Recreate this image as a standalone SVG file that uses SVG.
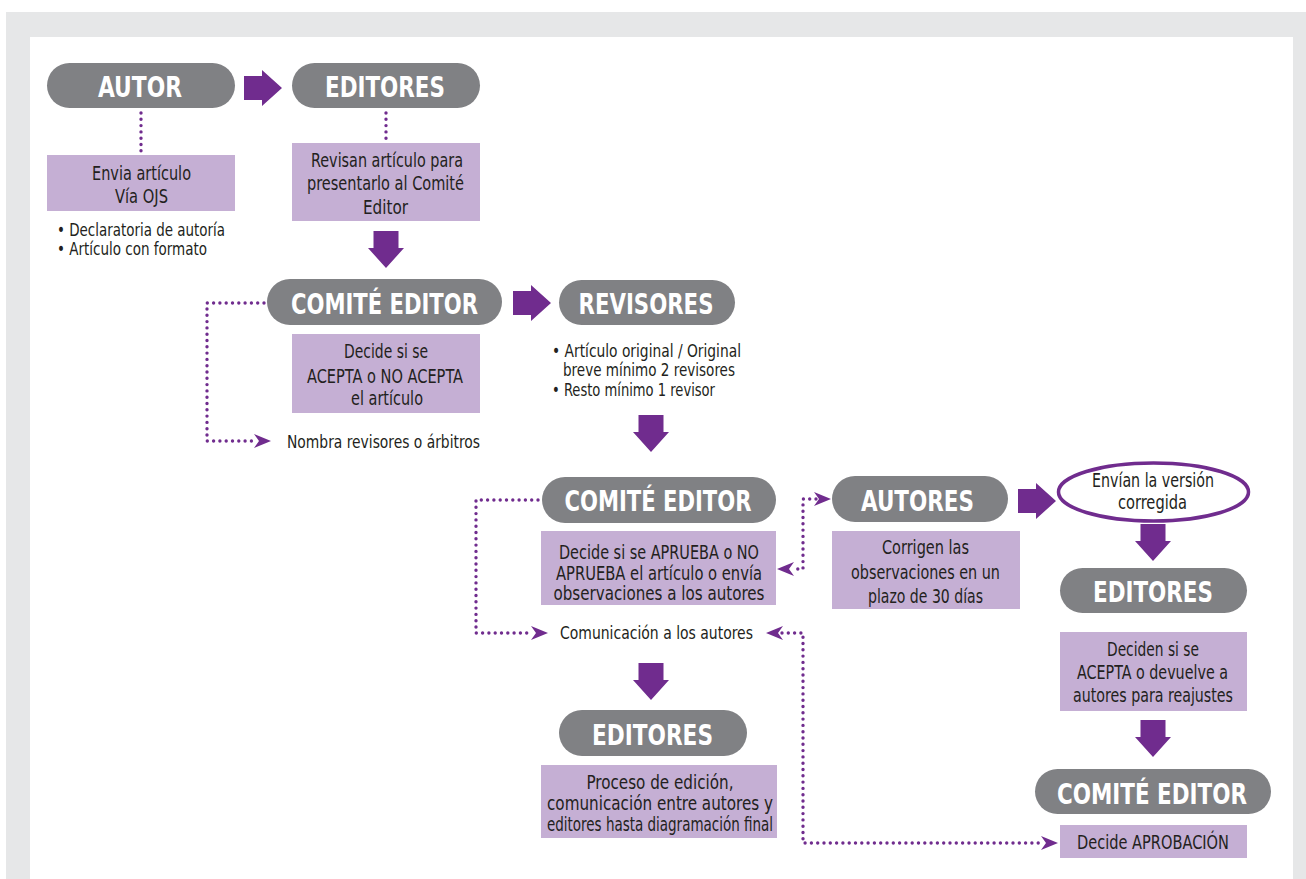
<svg xmlns="http://www.w3.org/2000/svg" width="1306" height="879" viewBox="0 0 1306 879">
<style>
.pill{fill:#808184}
.pt{font-family:"DejaVu Sans Condensed","Liberation Sans",sans-serif;font-weight:bold;font-size:28px;fill:#fff;text-anchor:middle}
.box{fill:#c5afd4}
.t{font-family:"DejaVu Sans Condensed","Liberation Sans",sans-serif;font-size:19px;fill:#231f20}
.s{font-size:17px}
.c{text-anchor:middle}
.arr{fill:#702c8e}
.dot{fill:none;stroke:#702c8e;stroke-width:3.4;stroke-linecap:round;stroke-dasharray:0 6.3}
.ah{fill:#702c8e}
</style>
<defs>
<path id="bigR" d="M0,-12 H18 V-18 L38,0 L18,18 V12 H0 Z"/>
<path id="bigD" d="M-12.5,0 H12.5 V17 H18 L0,37 L-18,17 H-12.5 Z"/>
<path id="headR" d="M0,0 L-17,-7 L-12,0 L-17,7 Z"/>
</defs>
<rect x="6" y="12" width="1300" height="867" fill="#e6e7e8"/>
<rect x="30" y="37" width="1263" height="842" fill="#ffffff"/>

<g id="connectors">
<use href="#bigR" class="arr" x="244" y="88"/>
<use href="#bigD" class="arr" x="386" y="231"/>
<use href="#bigR" class="arr" x="513" y="303"/>
<use href="#bigD" class="arr" x="651" y="415"/>
<use href="#bigR" class="arr" x="1018" y="501"/>
<use href="#bigD" class="arr" x="1153" y="524"/>
<use href="#bigD" class="arr" x="1153" y="720"/>
<use href="#bigD" class="arr" x="651" y="663"/>
<path class="dot" d="M141,113 V152"/>
<path class="dot" d="M386,113 V140"/>
<path class="dot" d="M264,303 H207 V441 H255"/>
<use href="#headR" class="ah" x="271" y="441"/>
<path class="dot" d="M538,500 H476 V633 H531"/>
<use href="#headR" class="ah" x="548" y="633"/>
<path class="dot" d="M816,499 H803 V569 H792"/>
<use href="#headR" class="ah" x="831" y="499"/>
<use href="#headR" class="ah" transform="translate(777,569) rotate(180)"/>
<path class="dot" d="M782,633 H803 V843 H1042"/>
<use href="#headR" class="ah" x="1058" y="843"/>
<use href="#headR" class="ah" transform="translate(766,633) rotate(180)"/>
</g>

<g id="autor">
<rect class="pill" x="47" y="63" width="188" height="45" rx="22.5"/>
<text class="pt" x="140" y="97" textLength="84" lengthAdjust="spacingAndGlyphs">AUTOR</text>
</g>
<g id="envia">
<rect class="box" x="47" y="155" width="188" height="56"/>
<text class="t c" x="141.5" y="180" textLength="99" lengthAdjust="spacingAndGlyphs">Envia artículo</text>
<text class="t c" x="141.5" y="203" textLength="53" lengthAdjust="spacingAndGlyphs">Vía OJS</text>
</g>
<g id="autor-bullets">
<text class="t s" x="57" y="236" textLength="168" lengthAdjust="spacingAndGlyphs">• Declaratoria de autoría</text>
<text class="t s" x="57" y="255" textLength="150" lengthAdjust="spacingAndGlyphs">• Artículo con formato</text>
</g>
<g id="editores1">
<rect class="pill" x="292" y="63" width="188" height="45" rx="22.5"/>
<text class="pt" x="385" y="97" textLength="120" lengthAdjust="spacingAndGlyphs">EDITORES</text>
</g>
<g id="revisan">
<rect class="box" x="292" y="143" width="188" height="78"/>
<text class="t c" x="387" y="167" textLength="152" lengthAdjust="spacingAndGlyphs">Revisan artículo para</text>
<text class="t c" x="385.5" y="190" textLength="157" lengthAdjust="spacingAndGlyphs">presentarlo al Comité</text>
<text class="t c" x="385.5" y="214" textLength="45" lengthAdjust="spacingAndGlyphs">Editor</text>
</g>
<g id="comite1">
<rect class="pill" x="267" y="279" width="235" height="46" rx="23"/>
<text class="pt" x="384.5" y="314" textLength="187" lengthAdjust="spacingAndGlyphs">COMITÉ EDITOR</text>
</g>
<g id="decide1">
<rect class="box" x="292" y="334" width="188" height="79"/>
<text class="t c" x="386" y="358" textLength="84" lengthAdjust="spacingAndGlyphs">Decide si se</text>
<text class="t c" x="385" y="383" textLength="156" lengthAdjust="spacingAndGlyphs">ACEPTA o NO ACEPTA</text>
<text class="t c" x="387" y="405" textLength="72" lengthAdjust="spacingAndGlyphs">el artículo</text>
</g>
<g id="nombra">
<text class="t s" x="287" y="448" textLength="193" lengthAdjust="spacingAndGlyphs">Nombra revisores o árbitros</text>
</g>
<g id="revisores">
<rect class="pill" x="559" y="280" width="176" height="45" rx="22.5"/>
<text class="pt" x="646" y="314" textLength="135" lengthAdjust="spacingAndGlyphs">REVISORES</text>
</g>
<g id="revisores-bullets">
<text class="t s" x="552" y="357" textLength="189" lengthAdjust="spacingAndGlyphs">• Artículo original / Original</text>
<text class="t s" x="563" y="376" textLength="172" lengthAdjust="spacingAndGlyphs">breve mínimo 2 revisores</text>
<text class="t s" x="552" y="396" textLength="163" lengthAdjust="spacingAndGlyphs">• Resto mínimo 1 revisor</text>
</g>
<g id="comite2">
<rect class="pill" x="542" y="477" width="234" height="46" rx="23"/>
<text class="pt" x="658" y="511" textLength="187" lengthAdjust="spacingAndGlyphs">COMITÉ EDITOR</text>
</g>
<g id="decide2">
<rect class="box" x="541" y="531" width="235" height="74"/>
<text class="t c" x="659" y="559" textLength="200" lengthAdjust="spacingAndGlyphs">Decide si se APRUEBA o NO</text>
<text class="t c" x="659" y="580" textLength="206" lengthAdjust="spacingAndGlyphs">APRUEBA el artículo o envía</text>
<text class="t c" x="659" y="600" textLength="211" lengthAdjust="spacingAndGlyphs">observaciones a los autores</text>
</g>
<g id="comunicacion">
<text class="t s" x="560" y="639" textLength="193" lengthAdjust="spacingAndGlyphs">Comunicación a los autores</text>
</g>
<g id="autores">
<rect class="pill" x="832" y="476" width="176" height="46" rx="23"/>
<text class="pt" x="917.5" y="511" textLength="113" lengthAdjust="spacingAndGlyphs">AUTORES</text>
</g>
<g id="corrigen">
<rect class="box" x="832" y="531" width="188" height="78"/>
<text class="t c" x="925.5" y="554" textLength="87" lengthAdjust="spacingAndGlyphs">Corrigen las</text>
<text class="t c" x="925.5" y="579" textLength="149" lengthAdjust="spacingAndGlyphs">observaciones en un</text>
<text class="t c" x="925.5" y="603" textLength="115" lengthAdjust="spacingAndGlyphs">plazo de 30 días</text>
</g>
<g id="envian">
<ellipse cx="1153.5" cy="492" rx="95" ry="29" fill="#fff" stroke="#702c8e" stroke-width="3.5"/>
<text class="t c" x="1153" y="487" textLength="122" lengthAdjust="spacingAndGlyphs">Envían la versión</text>
<text class="t c" x="1152.5" y="509" textLength="69" lengthAdjust="spacingAndGlyphs">corregida</text>
</g>
<g id="editores2">
<rect class="pill" x="1060" y="568" width="187" height="45" rx="22.5"/>
<text class="pt" x="1153" y="602" textLength="120" lengthAdjust="spacingAndGlyphs">EDITORES</text>
</g>
<g id="deciden">
<rect class="box" x="1060" y="632" width="187" height="79"/>
<text class="t c" x="1153" y="656" textLength="92" lengthAdjust="spacingAndGlyphs">Deciden si se</text>
<text class="t c" x="1152.5" y="679" textLength="151" lengthAdjust="spacingAndGlyphs">ACEPTA o devuelve a</text>
<text class="t c" x="1153" y="702" textLength="160" lengthAdjust="spacingAndGlyphs">autores para reajustes</text>
</g>
<g id="comite3">
<rect class="pill" x="1035" y="769" width="236" height="45" rx="22.5"/>
<text class="pt" x="1152" y="804" textLength="190" lengthAdjust="spacingAndGlyphs">COMITÉ EDITOR</text>
</g>
<g id="aprobacion">
<rect class="box" x="1060" y="825" width="187" height="33"/>
<text class="t c" x="1153" y="849" textLength="152" lengthAdjust="spacingAndGlyphs">Decide APROBACIÓN</text>
</g>
<g id="editores3">
<rect class="pill" x="559" y="710" width="188" height="46" rx="23"/>
<text class="pt" x="652.5" y="745" textLength="121" lengthAdjust="spacingAndGlyphs">EDITORES</text>
</g>
<g id="proceso">
<rect class="box" x="541" y="765" width="236" height="73"/>
<text class="t c" x="660" y="789" textLength="147" lengthAdjust="spacingAndGlyphs">Proceso de edición,</text>
<text class="t c" x="660" y="810" textLength="226" lengthAdjust="spacingAndGlyphs">comunicación entre autores y</text>
<text class="t c" x="660" y="831" textLength="226" lengthAdjust="spacingAndGlyphs">editores hasta diagramación final</text>
</g>
</svg>
